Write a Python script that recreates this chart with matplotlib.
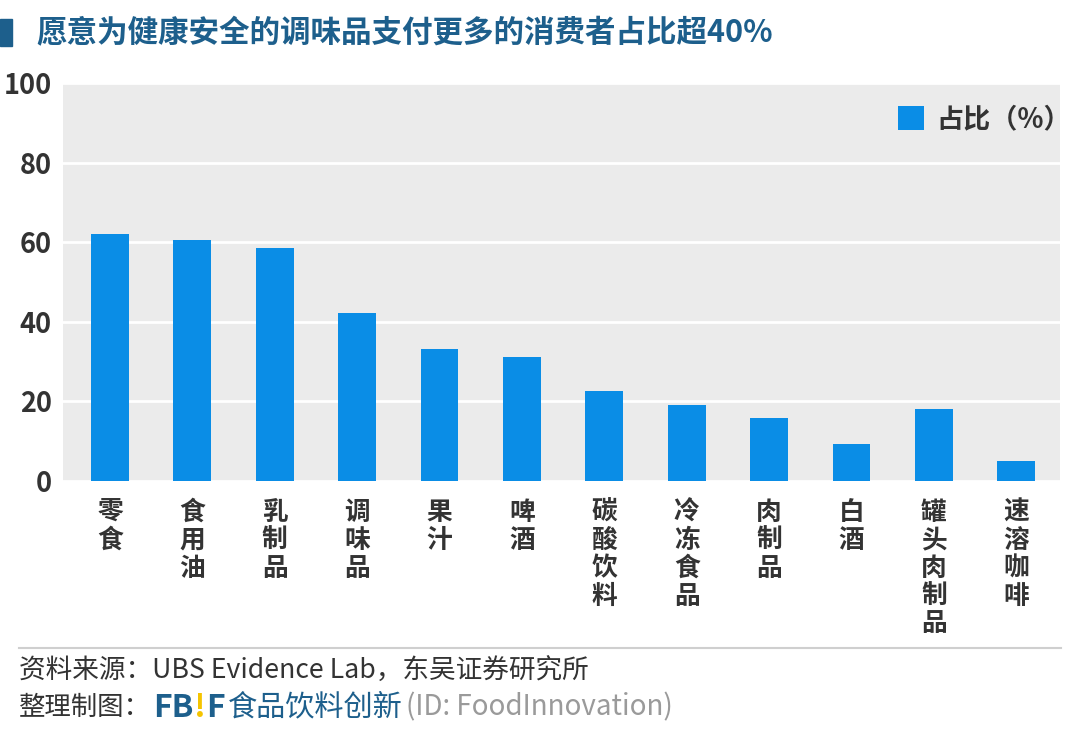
import matplotlib
matplotlib.use("Agg")
from matplotlib import pyplot as plt

FONT = ['Noto Sans CJK SC', 'DejaVu Sans']
plt.rcParams['font.family'] = FONT

categories = ['零食', '食用油', '乳制品', '调味品', '果汁', '啤酒', '碳酸饮料',
              '冷冻食品', '肉制品', '白酒', '罐头肉制品', '速溶咖啡']
values = [62.0, 60.5, 58.5, 42.2, 33.2, 31.2, 22.6, 19.1, 15.8, 9.3, 18.1, 5.0]
yticks = [0, 20, 40, 60, 80, 100]

title = '愿意为健康安全的调味品支付更多的消费者占比超40%'
legend_label = '占比（%）'
source = '资料来源：UBS Evidence Lab，东吴证券研究所'

BAR = '#0a8de6'
DARK = '#333333'
TITLE_C = '#1d5f8c'


def main():
    fig = plt.figure(figsize=(10.8, 7.35), dpi=100)
    ax = fig.add_axes([0.0583, 0.3456, 0.9232, 0.5414])
    ax.set_facecolor('#ebebeb')

    x = range(len(categories))
    ax.bar(x, values, width=0.46, color=BAR, zorder=3, label=legend_label)

    ax.set_xlim(-0.57, 11.53)
    ax.set_ylim(0, 100)
    ax.set_yticks(yticks)
    ax.set_yticklabels([str(t) for t in yticks], fontsize=19.5, color=DARK,
                       fontweight='bold')
    ax.set_xticks(list(x))
    ax.set_xticklabels(['\n'.join(c) for c in categories], fontsize=18.5,
                       color=DARK, linespacing=1.04, va='top', fontweight='bold')
    ax.tick_params(length=0, pad=13)
    ax.tick_params(axis='y', pad=8)
    ax.grid(axis='y', color='white', linewidth=2, zorder=1)
    for s in ax.spines.values():
        s.set_visible(False)

    leg = ax.legend(loc='upper right', fontsize=19.5, frameon=False,
                    handlelength=0.95, handleheight=0.95, handletextpad=0.45,
                    bbox_to_anchor=(1.035, 1.005))
    for t in leg.get_texts():
        t.set_color(DARK)
        t.set_fontweight('bold')

    # title with left marker
    fig.patches.append(plt.Rectangle((0, 0.938), 0.011, 0.036, transform=fig.transFigure,
                                     color=TITLE_C, figure=fig))
    fig.text(0.034, 0.955, title, fontsize=22, fontweight='bold', color=TITLE_C,
             va='center')

    # separator line
    fig.add_artist(plt.Line2D([0.018, 0.982], [0.118, 0.118], color='#cfcfcf',
                              linewidth=1.5, transform=fig.transFigure))

    fig.text(0.018, 0.086, source, fontsize=19.2, color=DARK, va='center')

    # credit line, pieces chained left to right
    r = fig.canvas.get_renderer()
    xpos = 0.018
    pieces = [('整理制图：', DARK, 'normal', 19, 0.002),
              ('FB', TITLE_C, 'bold', 23, 0.0),
              ('!', '#f5c400', 'bold', 23, 0.0),
              ('F', TITLE_C, 'bold', 23, 0.003),
              ('食品饮料创新', TITLE_C, 'normal', 21, 0.003),
              ('(ID: FoodInnovation)', '#9a9a9a', 'normal', 20, 0.0)]
    for txt, col, w, sz, gap in pieces:
        t = fig.text(xpos, 0.037, txt, fontsize=sz, color=col, fontweight=w,
                     va='center')
        bb = t.get_window_extent(renderer=r)
        xpos += bb.width / fig.bbox.width + gap

    fig.savefig('out.png', dpi=100, facecolor='white')


if __name__ == '__main__':
    main()
